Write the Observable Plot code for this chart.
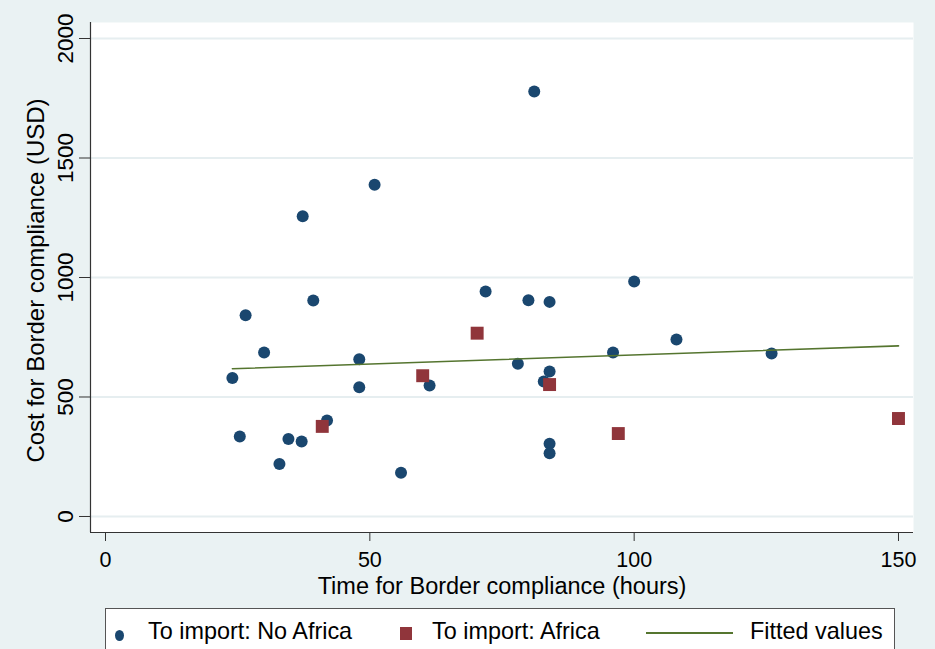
<!DOCTYPE html>
<html>
<head>
<meta charset="utf-8">
<script src="https://cdn.jsdelivr.net/npm/d3@7"></script>
<script src="https://cdn.jsdelivr.net/npm/@observablehq/plot@0.6"></script>
<style>
  html, body { margin: 0; padding: 0; background: #eaf2f3; }
  #wrap { position: relative; width: 935px; height: 649px; overflow: hidden; background: #eaf2f3;
          font-family: "Liberation Sans", Arial, sans-serif; }
  #chart svg { display: block; }
  #legend { position: absolute; left: 105px; top: 608px; width: 790px; height: 70px;
            background: #ffffff; border: 1px solid #555; box-sizing: border-box; }
  .lt { position: absolute; top: 11px; font-size: 23.4px; line-height: 23.4px; color: #000; white-space: nowrap; }
  .ldot { position: absolute; width: 9px; height: 11px; border-radius: 50%; background: #1a476f; }
  .lsq { position: absolute; width: 12px; height: 13px; background: #90353b; }
  .lline { position: absolute; height: 2px; background: #55752f; }
</style>
</head>
<body>
<div id="wrap">
  <div id="chart"></div>
  <div id="legend"></div>
</div>
<script>
// ---- data ----
const noAfricaX = [24, 25.4, 26.5, 30, 32.9, 34.6, 37.3, 37.1, 39.3, 41.9, 48, 48, 50.9, 55.9, 61.3, 71.9, 78, 80, 81.1, 82.9, 84, 84, 84, 84, 96, 100, 108, 126];
const noAfricaY = [579, 335, 842, 686, 220, 324, 1256, 314, 904, 402, 658, 541, 1388, 183, 548, 941, 639, 905, 1778, 565, 898, 607, 304, 265, 686, 983, 741, 682];
const africaX = [41, 60, 70.3, 84, 97, 150];
const africaY = [377, 589, 767, 552, 347, 410];
const fitX = [24, 150];
const fitY = [618, 714];
const xTicks = [0, 50, 100, 150];
const yTicks = [0, 500, 1000, 1500, 2000];
const xTitle = "Time for Border compliance (hours)";
const yTitle = "Cost for Border compliance (USD)";
const legendLabels = ["To import: No Africa", "To import: Africa", "Fitted values"];

// ---- styling ----
const blue = "#1a476f", red = "#90353b", green = "#55752f";
const gridColor = "#e6eef0", axisColor = "#333";
const xDomain = [-2.84, 152.84];
const yDomain = [-67, 2067];

const toRows = (xs, ys) => xs.map((x, i) => ({x, y: ys[i]}));
const noAfrica = toRows(noAfricaX, noAfricaY);
const africa = toRows(africaX, africaY);
const fit = toRows(fitX, fitY);

const chart = Plot.plot({
  width: 935,
  height: 600,
  marginLeft: 90,
  marginRight: 22,
  marginTop: 22,
  marginBottom: 68,
  x: {domain: xDomain},
  y: {domain: yDomain},
  style: {background: "transparent", fontFamily: "'Liberation Sans', Arial, sans-serif", color: "#000"},
  marks: [
    Plot.frame({fill: "white", stroke: "none"}),
    Plot.ruleY(yTicks, {stroke: gridColor, strokeWidth: 2}),
    Plot.ruleX([xDomain[0]], {stroke: axisColor, strokeWidth: 1.2}),
    Plot.ruleY([yDomain[0]], {stroke: axisColor, strokeWidth: 1.2}),
    Plot.axisX(xTicks, {tickSize: 9, tickPadding: 10, fontSize: 21.5, label: null, stroke: axisColor, tickFormat: d => String(d)}),
    Plot.axisY(yTicks, {tickSize: 11, tickPadding: 7, tickRotate: -90, fontSize: 22.5, label: null, stroke: axisColor, tickFormat: d => String(d)}),
    Plot.dot(noAfrica, {x: "x", y: "y", r: 6, fill: blue, symbol: "circle"}),
    Plot.dot(africa, {x: "x", y: "y", r: 7.3, fill: red, symbol: "square"}),
    Plot.line(fit, {x: "x", y: "y", stroke: green, strokeWidth: 1.6}),
    Plot.text([xTitle], {frameAnchor: "bottom", dy: 61, lineAnchor: "bottom", textAnchor: "middle", fontSize: 23.5, fill: "#000"}),
    Plot.text([yTitle], {frameAnchor: "left", dx: -47, dy: 3, rotate: -90, lineAnchor: "bottom", textAnchor: "middle", fontSize: 24, fill: "#000"})
  ]
});
document.getElementById("chart").appendChild(chart);

// ---- legend (HTML, below the SVG) ----
const lg = document.getElementById("legend");
const L = 106, T = 609; // inner origin of legend box in page coords
function add(cls, left, top, extra) {
  const d = document.createElement("div");
  d.className = cls;
  d.style.left = (left - L) + "px";
  d.style.top = (top - T) + "px";
  if (extra) Object.assign(d.style, extra);
  lg.appendChild(d);
  return d;
}
add("ldot", 114.5, 629.5);
add("lsq", 400, 627);
add("lline", 646, 632, {width: "87px"});
const textLefts = [148, 432, 750];
legendLabels.forEach((t, i) => {
  const s = add("lt", textLefts[i], 620);
  s.textContent = t;
});
</script>
</body>
</html>
